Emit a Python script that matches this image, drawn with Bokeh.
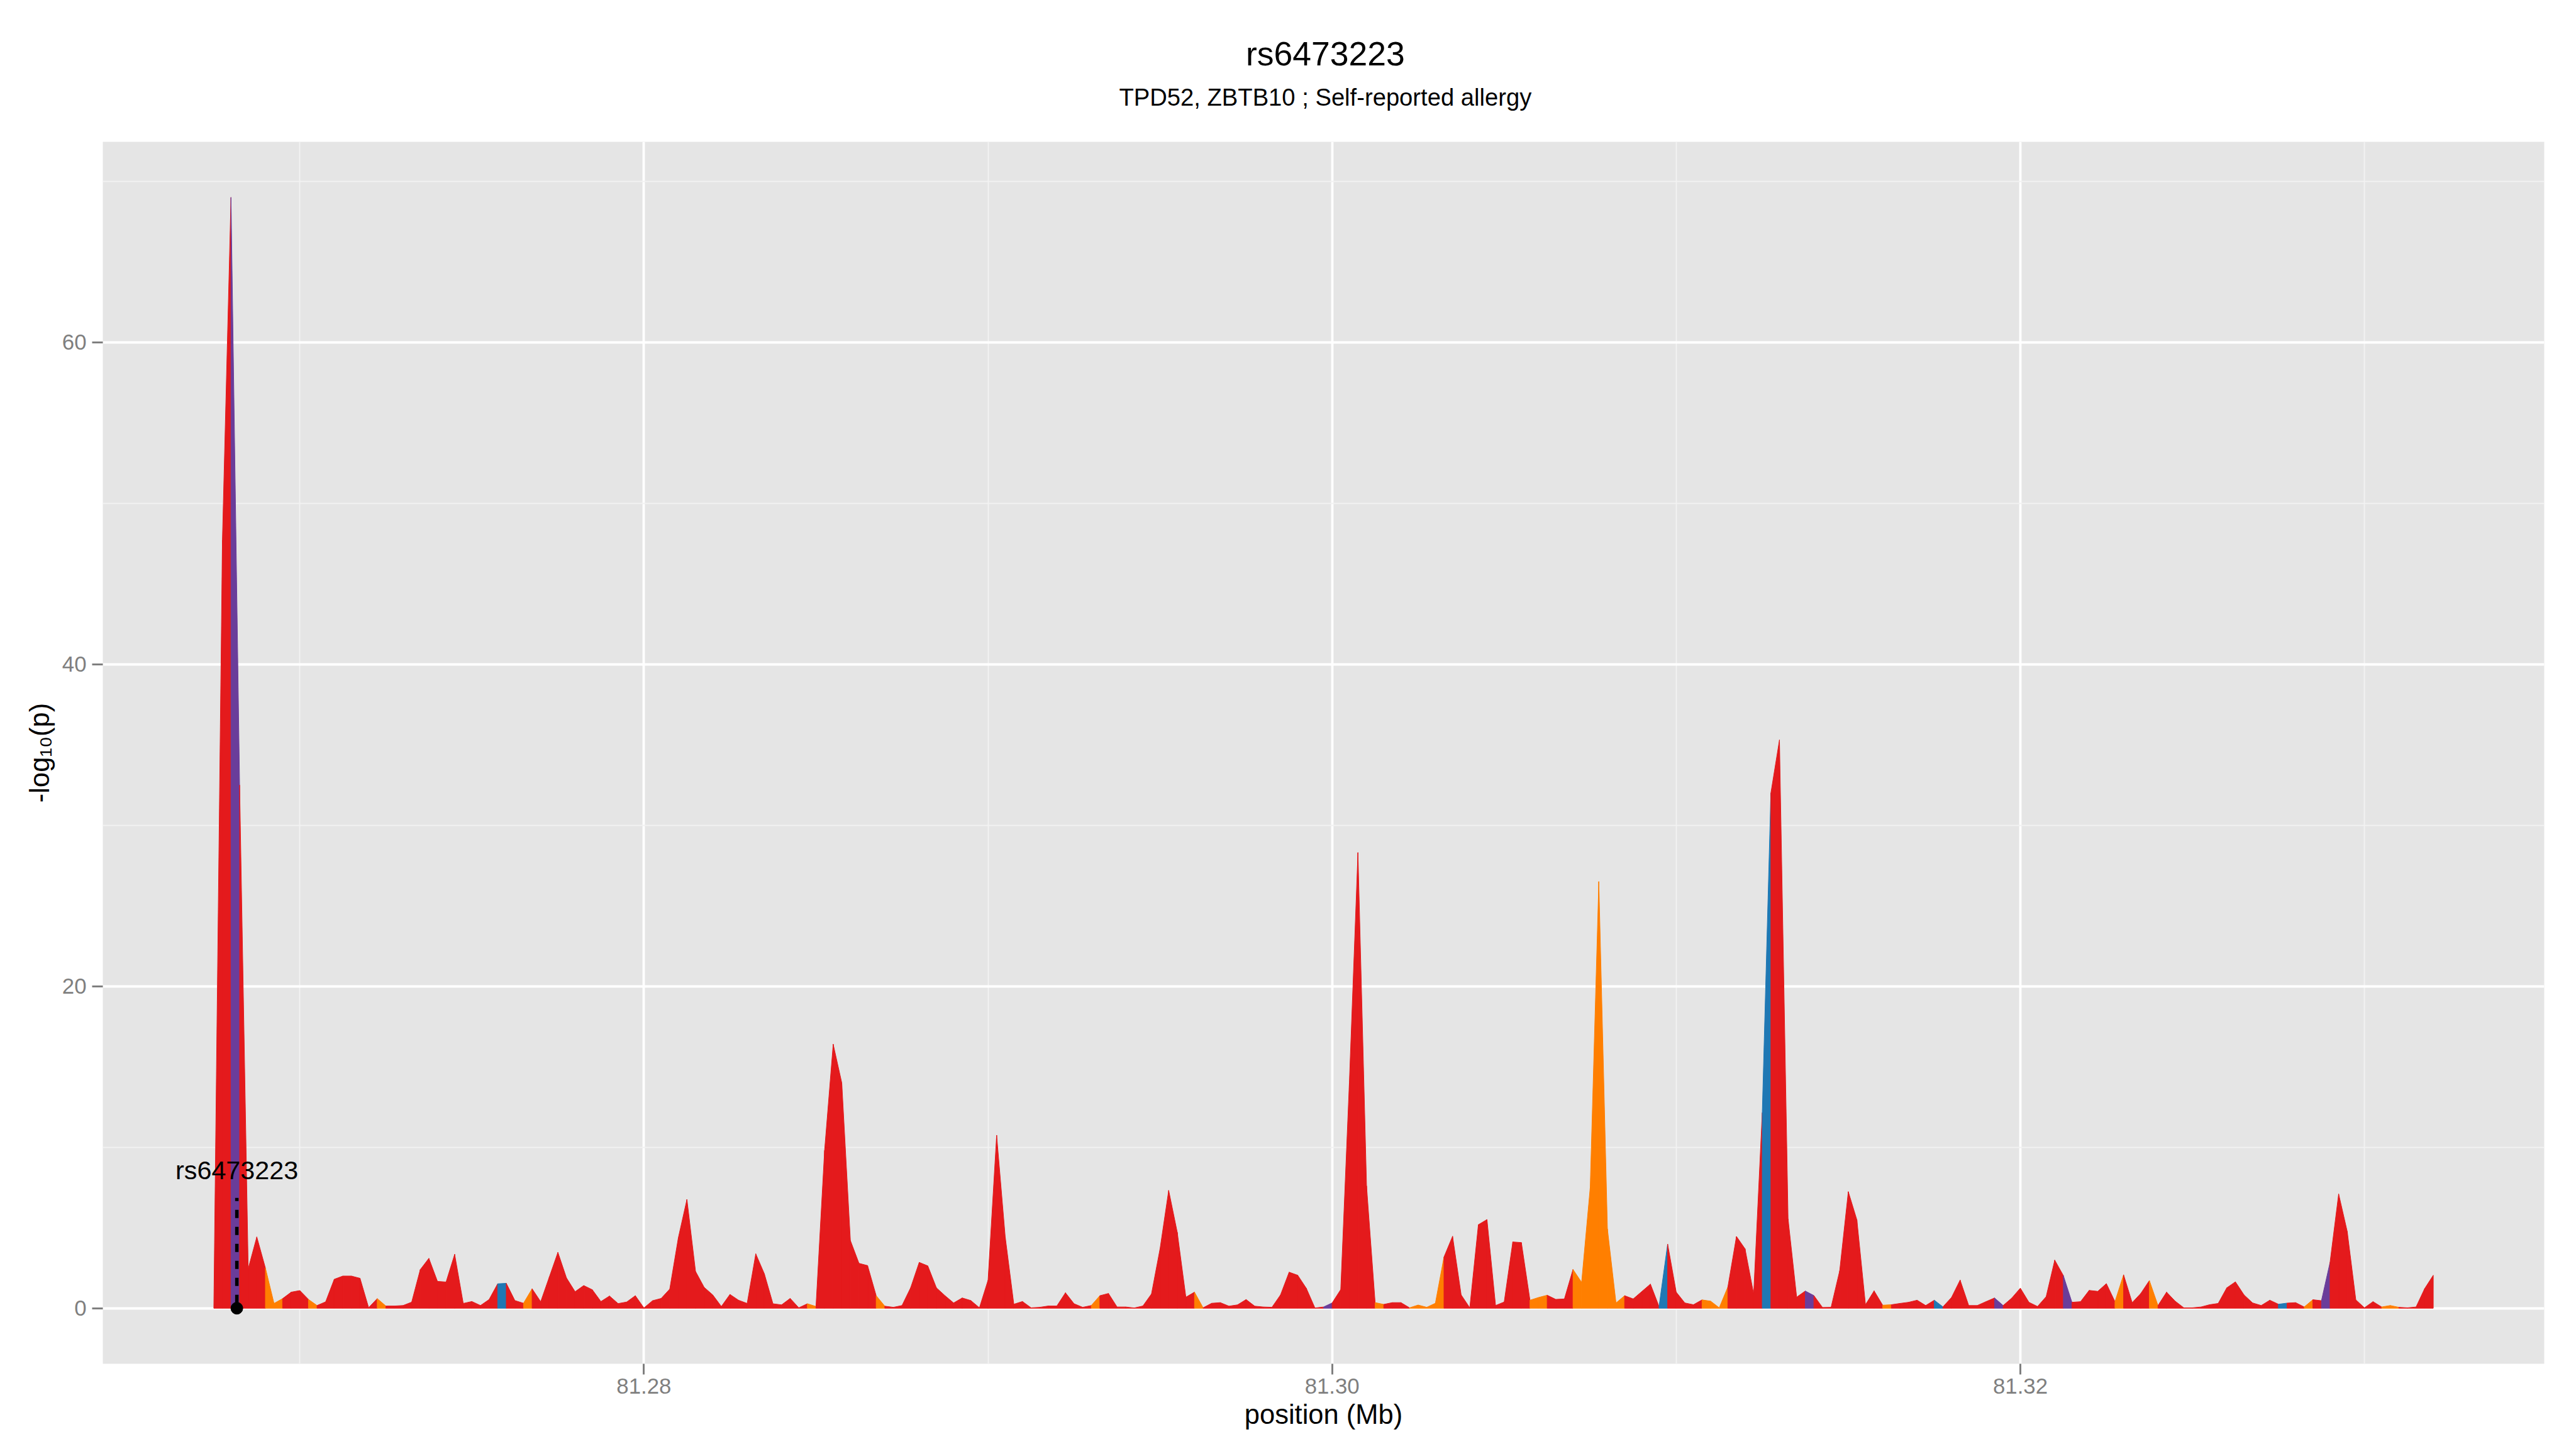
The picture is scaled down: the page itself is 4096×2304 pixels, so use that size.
from bokeh.plotting import figure
from bokeh.layouts import column
from bokeh.models import FixedTicker, PrintfTickFormatter, Range1d, ColumnDataSource
from bokeh.embed import file_html
from bokeh.resources import INLINE
from bokeh.core.properties import value

# ---------------- data ----------------
title_text = "rs6473223"
subtitle_text = "TPD52, ZBTB10 ; Self-reported allergy"
x_title = "position (Mb)"
y_title = "-log\u2081\u2080(p)"

positions_bp = [
    81267500, 81267750, 81268000, 81268250, 81268500, 81268750, 81269000, 81269250, 81269500, 81269750,
    81270000, 81270250, 81270500, 81270750, 81271000, 81271250, 81271500, 81271750, 81272000, 81272250,
    81272500, 81272750, 81273000, 81273250, 81273500, 81273750, 81274000, 81274250, 81274500, 81274750,
    81275000, 81275250, 81275500, 81275750, 81276000, 81276250, 81276500, 81276750, 81277000, 81277250,
    81277500, 81277750, 81278000, 81278250, 81278500, 81278750, 81279000, 81279250, 81279500, 81279750,
    81280000, 81280250, 81280500, 81280750, 81281000, 81281250, 81281500, 81281750, 81282000, 81282250,
    81282500, 81282750, 81283000, 81283250, 81283500, 81283750, 81284000, 81284250, 81284500, 81284750,
    81285000, 81285250, 81285500, 81285750, 81286000, 81286250, 81286500, 81286750, 81287000, 81287250,
    81287500, 81287750, 81288000, 81288250, 81288500, 81288750, 81289000, 81289250, 81289500, 81289750,
    81290000, 81290250, 81290500, 81290750, 81291000, 81291250, 81291500, 81291750, 81292000, 81292250,
    81292500, 81292750, 81293000, 81293250, 81293500, 81293750, 81294000, 81294250, 81294500, 81294750,
    81295000, 81295250, 81295500, 81295750, 81296000, 81296250, 81296500, 81296750, 81297000, 81297250,
    81297500, 81297750, 81298000, 81298250, 81298500, 81298750, 81299000, 81299250, 81299500, 81299750,
    81300000, 81300250, 81300500, 81300750, 81301000, 81301250, 81301500, 81301750, 81302000, 81302250,
    81302500, 81302750, 81303000, 81303250, 81303500, 81303750, 81304000, 81304250, 81304500, 81304750,
    81305000, 81305250, 81305500, 81305750, 81306000, 81306250, 81306500, 81306750, 81307000, 81307250,
    81307500, 81307750, 81308000, 81308250, 81308500, 81308750, 81309000, 81309250, 81309500, 81309750,
    81310000, 81310250, 81310500, 81310750, 81311000, 81311250, 81311500, 81311750, 81312000, 81312250,
    81312500, 81312750, 81313000, 81313250, 81313500, 81313750, 81314000, 81314250, 81314500, 81314750,
    81315000, 81315250, 81315500, 81315750, 81316000, 81316250, 81316500, 81316750, 81317000, 81317250,
    81317500, 81317750, 81318000, 81318250, 81318500, 81318750, 81319000, 81319250, 81319500, 81319750,
    81320000, 81320250, 81320500, 81320750, 81321000, 81321250, 81321500, 81321750, 81322000, 81322250,
    81322500, 81322750, 81323000, 81323250, 81323500, 81323750, 81324000, 81324250, 81324500, 81324750,
    81325000, 81325250, 81325500, 81325750, 81326000, 81326250, 81326500, 81326750, 81327000, 81327250,
    81327500, 81327750, 81328000, 81328250, 81328500, 81328750, 81329000, 81329250, 81329500, 81329750,
    81330000, 81330250, 81330500, 81330750, 81331000, 81331250, 81331500, 81331750, 81332000,
]

neglog10p = [
    0.0, 47.7, 69.0, 32.5, 2.46, 4.43, 2.5, 0.3, 0.6, 1.0,
    1.1, 0.55, 0.17, 0.4, 1.8, 2.0, 2.0, 1.86, 0.04, 0.6,
    0.14, 0.14, 0.17, 0.38, 2.4, 3.1, 1.67, 1.63, 3.35, 0.3,
    0.42, 0.17, 0.54, 1.52, 1.55, 0.48, 0.31, 1.21, 0.41, 1.94,
    3.47, 1.88, 1.03, 1.41, 1.15, 0.42, 0.76, 0.29, 0.39, 0.78,
    0.02, 0.47, 0.61, 1.19, 4.38, 6.76, 2.29, 1.30, 0.83, 0.11,
    0.86, 0.50, 0.30, 3.38, 2.14, 0.28, 0.21, 0.61, 0.03, 0.28,
    0.11, 9.8, 16.4, 14.0, 4.21, 2.79, 2.65, 0.78, 0.13, 0.06,
    0.17, 1.27, 2.85, 2.63, 1.27, 0.78, 0.33, 0.64, 0.48, 0.03,
    1.74, 10.75, 4.43, 0.25, 0.42, 0.03, 0.06, 0.14, 0.14, 0.96,
    0.28, 0.06, 0.17, 0.78, 0.92, 0.08, 0.08, 0.02, 0.14, 0.89,
    3.71, 7.32, 4.71, 0.69, 1.00, 0.03, 0.31, 0.35, 0.13, 0.21,
    0.54, 0.13, 0.08, 0.06, 0.83, 2.24, 2.05, 1.24, 0.02, 0.08,
    0.33, 1.16, 14.0, 28.3, 7.6, 0.35, 0.24, 0.35, 0.35, 0.03,
    0.2, 0.06, 0.31, 3.18, 4.47, 0.83, 0.03, 5.19, 5.51, 0.17,
    0.39, 4.12, 4.08, 0.5, 0.67, 0.81, 0.55, 0.58, 2.41, 1.61,
    7.5, 26.5, 4.93, 0.33, 0.78, 0.58, 1.04, 1.50, 0.11, 3.99,
    1.0, 0.33, 0.22, 0.52, 0.44, 0.03, 1.32, 4.46, 3.69, 0.89,
    12.15, 32.0, 35.3, 5.55, 0.69, 1.07, 0.79, 0.05, 0.06, 2.33,
    7.24, 5.49, 0.22, 1.08, 0.19, 0.22, 0.30, 0.37, 0.50, 0.17,
    0.50, 0.09, 0.67, 1.75, 0.17, 0.17, 0.41, 0.64, 0.17, 0.63,
    1.25, 0.37, 0.11, 0.72, 2.99, 2.03, 0.37, 0.41, 1.11, 1.05,
    1.53, 0.41, 2.08, 0.35, 0.92, 1.72, 0.17, 1.0, 0.44, 0.03,
    0.03, 0.08, 0.22, 0.30, 1.27, 1.64, 0.83, 0.33, 0.17, 0.50,
    0.25, 0.32, 0.35, 0.08, 0.53, 0.47, 2.85, 7.10, 4.77, 0.52,
    0.03, 0.41, 0.08, 0.17, 0.06, 0.03, 0.08, 1.22, 2.05,
]

# LD class of each segment (R red, P purple, B blue, O orange)
ld_class = [
    "RRPRRROORR", "RORRRRRRRO", "RRRRRRRRRR", "RRRBRRORRR", "RRRRRRRRRR",
    "RRRRRRRRRR", "RRRRRRRRRO", "RRRRRRRORR", "RRRRRRRRRR", "RRRRRRRRRR",
    "RRORRRRRRR", "RRRRORRRRR", "RRRRRRRRRP", "RRRRRORRRO", "OOORRRRRRR",
    "RRROORRROO", "OOOORRRRBR", "RRROOORRRR", "BRRRRPRRRR", "RRRRORRRRR",
    "BRRRRRRPRR", "RRRRRPRRRR", "RORRRORRRR", "RRRRRRRRRR", "BRRORPRRRR",
    "RROORRRRR",
]
ld_class = "".join(ld_class)

class_colors = {"R": "#E41A1C", "P": "#6A3D9A", "B": "#1F78B4", "O": "#FF7F00"}

lead_snp = "rs6473223"
lead_pos_mb = 81.26817
lead_line_top = 6.85
lead_label_y = 8.55

x_ticks = [81.28, 81.30, 81.32]
x_minor = [81.27, 81.29, 81.31, 81.33]
y_ticks = [0, 20, 40, 60]
y_minor = [10, 30, 50, 70]

# ---------------- layout constants (px) ----------------
FONT = "Liberation Sans"
LEFT, RIGHT, TOP, BOTTOM = 163, 43, 225, 128
FW, FH = 3882, 1943
TOTAL_W = LEFT + FW + RIGHT

# ---------------- title strip ----------------
pt = figure(width=TOTAL_W, height=TOP, x_range=Range1d(0, TOTAL_W), y_range=Range1d(TOP, 0),
            x_axis_type=None, y_axis_type=None, min_border=0,
            output_backend="svg", toolbar_location=None)
pt.outline_line_color = None
pt.grid.visible = False
pt.background_fill_color = "white"
pt.border_fill_color = "white"
cx = LEFT + FW / 2 - 57
pt.text(x=[cx], y=[85], text=[title_text], text_font=value(FONT),
        text_font_size=value("53.5px"), text_align="center", text_baseline="alphabetic",
        text_color="black")
pt.text(x=[cx], y=[154], text=[subtitle_text], text_font=value(FONT),
        text_font_size=value("38.2px"), text_align="center", text_baseline="alphabetic",
        text_color="black")

# ---------------- main plot ----------------
x = [b / 1e6 for b in positions_bp]
y = neglog10p

xs, ys, fc = [], [], []
for i in range(len(x) - 1):
    xs.append([x[i], x[i], x[i + 1], x[i + 1]])
    ys.append([0, y[i], y[i + 1], 0])
    fc.append(class_colors[ld_class[i]])
src = ColumnDataSource(dict(xs=xs, ys=ys, fc=fc))

xspan = max(x) - min(x)
yspan = max(y) - 0
x_range = Range1d(min(x) - 0.05 * xspan, max(x) + 0.05 * xspan)
y_range = Range1d(0 - 0.05 * yspan, max(y) + 0.05 * yspan)

p = figure(frame_width=FW, frame_height=FH,
           min_border_left=LEFT, min_border_right=RIGHT,
           min_border_top=0, min_border_bottom=BOTTOM,
           x_range=x_range, y_range=y_range,
           output_backend="svg", toolbar_location=None)

p.background_fill_color = "#E5E5E5"
p.border_fill_color = "white"
p.outline_line_color = None

p.patches("xs", "ys", source=src, fill_color="fc", line_color="fc", line_width=1)

p.line([lead_pos_mb, lead_pos_mb], [lead_line_top, 0], line_color="black",
       line_width=5.5, line_dash="13 14", line_dash_offset=8)
p.scatter([lead_pos_mb], [0], size=19, color="black")
p.text(x=[lead_pos_mb], y=[lead_label_y], text=[lead_snp],
       text_font=value(FONT), text_font_size=value("41.3px"),
       text_align="center", text_baseline="alphabetic", text_color="black")

for g in (p.xgrid, p.ygrid):
    g.grid_line_color = "white"
    g.grid_line_width = 3.8
    g.minor_grid_line_color = "#F2F2F2"
    g.minor_grid_line_width = 1.9

p.xaxis.ticker = FixedTicker(ticks=x_ticks, minor_ticks=x_minor)
p.yaxis.ticker = FixedTicker(ticks=y_ticks, minor_ticks=y_minor)
p.xaxis.formatter = PrintfTickFormatter(format="%.2f")
p.yaxis.formatter = PrintfTickFormatter(format="%d")

for ax in (p.xaxis[0], p.yaxis[0]):
    ax.axis_line_color = None
    ax.major_tick_line_color = "#7F7F7F"
    ax.major_tick_line_width = 3
    ax.major_tick_in = 0
    ax.major_tick_out = 17
    ax.minor_tick_line_color = None
    ax.major_label_text_color = "#7F7F7F"
    ax.major_label_text_font = FONT
    ax.major_label_text_font_size = "34.8px"
    ax.axis_label_text_font = FONT
    ax.axis_label_text_font_size = "43.5px"
    ax.axis_label_text_font_style = "normal"
    ax.axis_label_text_color = "black"

p.xaxis.axis_label = x_title
p.yaxis.axis_label = y_title
p.xaxis.major_label_standoff = 6
p.xaxis.axis_label_standoff = 6
p.yaxis.major_label_standoff = 9
p.yaxis.axis_label_standoff = 9

layout = column(pt, p, spacing=0)
open("out.html", "w").write(file_html(layout, INLINE))
